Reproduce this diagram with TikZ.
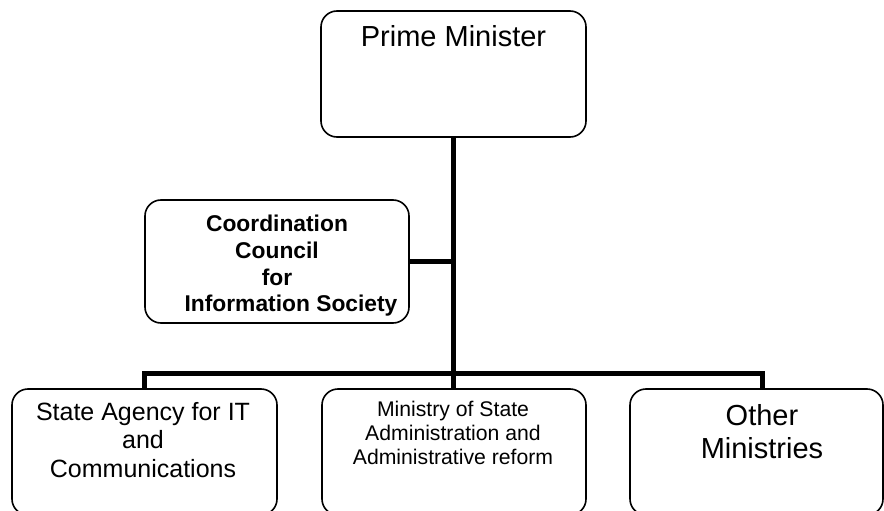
\documentclass[tikz,border=0pt]{standalone}
\usepackage{fontspec}
\setmainfont{Liberation Sans}
\begin{document}
\begin{tikzpicture}[x=1pt,y=-1pt,
  box/.style={draw=black,line width=1.6pt,rounded corners=16pt,inner sep=0pt},
  conn/.style={draw=black,line width=5pt,line join=miter},
  lbl/.style={inner sep=0pt,anchor=base,align=center}]
\useasboundingbox[fill=white] (0,0) rectangle (884,511);
% boxes
\node[box,minimum width=265pt,minimum height=126pt] (pm) at (453.5,74) {};
\node[box,minimum width=264pt,minimum height=123pt] (cc) at (277,261.5) {};
\node[box,minimum width=265pt,minimum height=126pt] (sa) at (144.5,452) {};
\node[box,minimum width=264pt,minimum height=126pt] (ms) at (454,452) {};
\node[box,minimum width=253pt,minimum height=126pt] (om) at (756.5,452) {};
\coordinate (omc) at (762,389);
% connectors
\draw[conn] (pm.south) -- (pm.south |- ms.north);
\draw[conn] (sa.north) -- ++(0,-15) -| (omc);
\draw[conn] (cc.east) -- (cc.east -| pm.south);
% texts
\node[lbl,font={\fontsize{29}{34}\selectfont}] (pmt) at (453.5,47) {Prime Minister};
\begin{scope}
\clip (140,195) rectangle (415,318);
\node[lbl,font={\fontsize{22.8}{26.7}\selectfont\bfseries}] (cct) at (277,311.7)
  {Coordination\\Council\\for\\\hspace*{28pt}Information Society};
\end{scope}
\node[lbl,font={\fontsize{25}{28.5}\selectfont}] (sat) at (143,477)
  {State Agency for IT\\and\\Communications};
\node[lbl,font={\fontsize{21.2}{24}\selectfont}] (mst) at (453,464)
  {Ministry of State\\Administration and\\Administrative reform};
\node[lbl,font={\fontsize{29}{33}\selectfont}] (omt) at (762,458.5)
  {Other\\Ministries};
\end{tikzpicture}
\end{document}
